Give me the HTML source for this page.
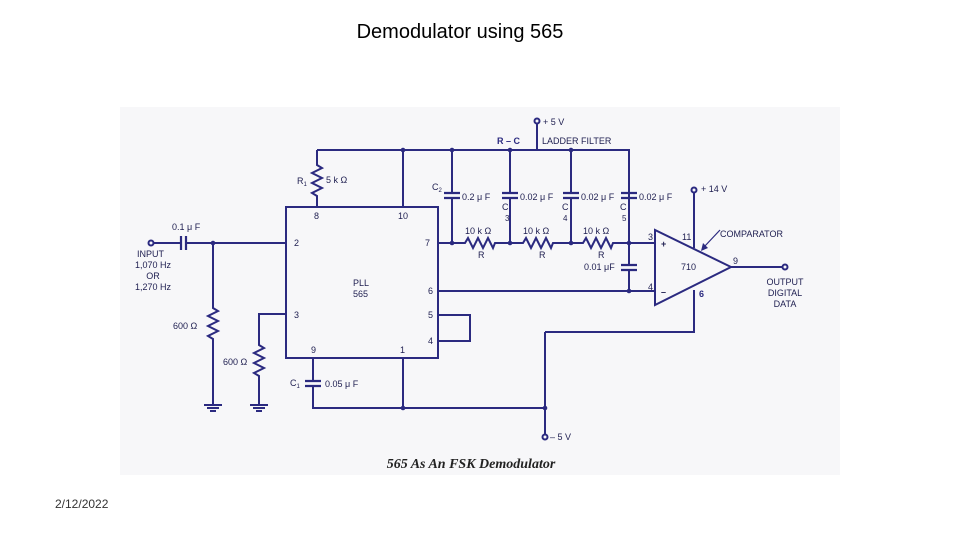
<!DOCTYPE html>
<html><head><meta charset="utf-8"><style>
html,body{margin:0;padding:0;background:#fff;}
body{width:960px;height:540px;position:relative;overflow:hidden;font-family:"Liberation Sans",sans-serif;}
.t{position:absolute;left:0;width:920px;text-align:center;top:21px;font-size:20px;color:#000;}
.d{position:absolute;left:55px;top:497px;font-size:12px;color:#333;}
svg{position:absolute;left:0;top:0;}
</style></head><body>
<div class="t">Demodulator using 565</div>
<div class="d">2/12/2022</div>
<svg width="960" height="540" viewBox="0 0 960 540">
<rect x="120" y="107" width="720" height="368" fill="#f7f7f9"/>
<g stroke="#2b2a80" stroke-width="2" fill="none">
<path d="M317 150H629V243"/>
<path d="M537 121V150"/>
<circle cx="537" cy="121" r="2.5" fill="#f7f7f9"/>
<path d="M317 150V165l5 3-10 5 10 5-10 5 10 5-10 5 5 3V207"/>
<path d="M403 150V207"/>
<rect x="286" y="207" width="152" height="151"/>
<path d="M154 243H181M186 243H286"/>
<path d="M181 236V250M186 236V250" stroke-width="2.2"/>
<circle cx="151" cy="243" r="2.5" fill="#f7f7f9"/>
<path d="M213 243V308l5 3-10 5 10 5-10 5 10 5-10 5 5 3V405"/>
<path d="M204 405H222M207 408H219M210 411H216"/>
<path d="M286 314H259V345l5 3-10 5 10 5-10 5 10 5-10 5 5 3V405"/>
<path d="M250 405H268M253 408H265M256 411H262"/>
<path d="M313 358V381M313 386V408H545"/>
<path d="M305 381H321M305 386H321" stroke-width="2.2"/>
<path d="M403 358V408"/>
<path d="M545 332V434"/>
<circle cx="545" cy="437" r="2.5" fill="#f7f7f9"/>
<path d="M545 332H694V290"/>
<path d="M438 315H470V341H438"/>
<path d="M438 291H656"/>
<path d="M438 243H465l3-5 5 10 5-10 5 10 5-10 5 10 2-5H523l3-5 5 10 5-10 5 10 5-10 5 10 2-5H583l3-5 5 10 5-10 5 10 5-10 5 10 2-5H656"/>
<path d="M452 150V193M452 198V243M510 150V193M510 198V243M571 150V193M571 198V243M629 150V193M629 198V243"/>
<path d="M444 193H460M444 198H460M502 193H518M502 198H518M563 193H579M563 198H579M621 193H637M621 198H637" stroke-width="2.2"/>
<path d="M629 243V265M629 270V291"/>
<path d="M621 265H637M621 270H637" stroke-width="2.2"/>
<path d="M655 230V305L731 267Z"/>
<path d="M731 267H782"/>
<circle cx="785" cy="267" r="2.5" fill="#f7f7f9"/>
<path d="M694 193V248"/>
<circle cx="694" cy="190" r="2.5" fill="#f7f7f9"/>
<path d="M720 230L704 247" stroke-width="1.2"/>
</g>
<path d="M701 251L703 243L708 248Z" fill="#2b2a80"/>
<g fill="#2b2a80">
<circle cx="403" cy="150" r="2.3"/><circle cx="452" cy="150" r="2.3"/><circle cx="510" cy="150" r="2.3"/><circle cx="571" cy="150" r="2.3"/>
<circle cx="213" cy="243" r="2.3"/><circle cx="452" cy="243" r="2.3"/><circle cx="510" cy="243" r="2.3"/><circle cx="571" cy="243" r="2.3"/><circle cx="629" cy="243" r="2.3"/>
<circle cx="629" cy="291" r="2.3"/><circle cx="403" cy="408" r="2.3"/><circle cx="545" cy="408" r="2.3"/>
</g>
<g font-family="Liberation Sans, sans-serif" font-size="9" fill="#1e1e50">
<text x="543" y="125">+ 5 V</text>
<text x="497" y="144" fill="#2b2a80" font-weight="bold">R – C</text>
<text x="542" y="144">LADDER FILTER</text>
<text x="297" y="184">R<tspan font-size="6" dy="2">1</tspan></text>
<text x="326" y="183">5 k Ω</text>
<text x="432" y="190">C<tspan font-size="6" dy="2">2</tspan></text>
<text x="462" y="200">0.2 μ F</text>
<text x="520" y="200">0.02 μ F</text>
<text x="581" y="200">0.02 μ F</text>
<text x="639" y="200">0.02 μ F</text>
<text x="502" y="210">C</text><text x="505" y="221" font-size="8">3</text>
<text x="562" y="210">C</text><text x="563" y="221" font-size="8">4</text>
<text x="620" y="210">C</text><text x="622" y="221" font-size="8">5</text>
<text x="701" y="192">+ 14 V</text>
<text x="720" y="237">COMPARATOR</text>
<text x="172" y="230">0.1 μ F</text>
<text x="137" y="257">INPUT</text>
<text x="153" y="268" text-anchor="middle">1,070 Hz</text>
<text x="153" y="279" text-anchor="middle">OR</text>
<text x="153" y="290" text-anchor="middle">1,270 Hz</text>
<text x="173" y="329">600 Ω</text>
<text x="223" y="365">600 Ω</text>
<text x="290" y="386">C<tspan font-size="6" dy="2">1</tspan></text>
<text x="325" y="387">0.05 μ F</text>
<text x="314" y="219">8</text><text x="398" y="219">10</text>
<text x="294" y="246">2</text><text x="425" y="246">7</text>
<text x="353" y="286">PLL</text><text x="353" y="297">565</text>
<text x="428" y="294">6</text><text x="294" y="318">3</text>
<text x="428" y="318">5</text><text x="428" y="344">4</text>
<text x="311" y="353">9</text><text x="400" y="353">1</text>
<text x="465" y="234">10 k Ω</text><text x="523" y="234">10 k Ω</text><text x="583" y="234">10 k Ω</text>
<text x="478" y="258">R</text><text x="539" y="258">R</text><text x="598" y="258">R</text>
<text x="584" y="270">0.01 μF</text>
<text x="648" y="240">3</text><text x="648" y="290">4</text>
<text x="661" y="247" font-weight="bold">+</text><text x="661" y="295" font-weight="bold">–</text>
<text x="681" y="270">710</text>
<text x="682" y="240">11</text>
<text x="733" y="264">9</text>
<text x="699" y="297" fill="#2b2a80" font-weight="bold">6</text>
<text x="785" y="285" text-anchor="middle">OUTPUT</text>
<text x="785" y="296" text-anchor="middle">DIGITAL</text>
<text x="785" y="307" text-anchor="middle">DATA</text>
<text x="550" y="440">– 5 V</text>
</g>
<text x="471" y="468" text-anchor="middle" font-family="Liberation Serif, serif" font-style="italic" font-weight="bold" font-size="14" fill="#222">565 As An FSK Demodulator</text>
</svg>
</body></html>
